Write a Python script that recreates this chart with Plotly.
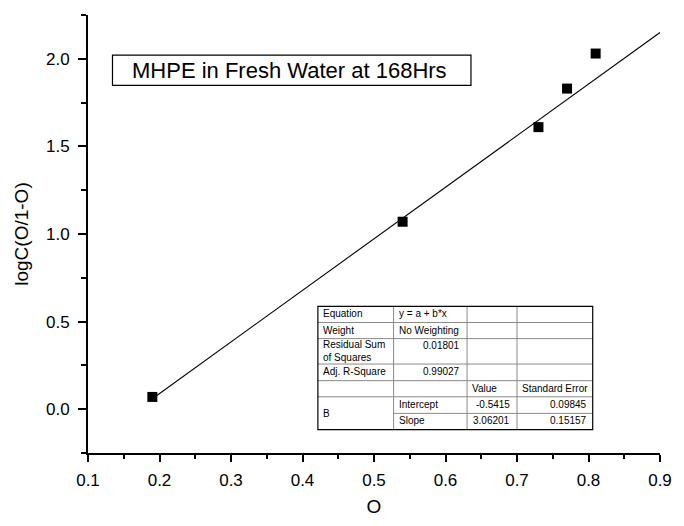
import plotly.graph_objects as go

# ---- data ----
x_vals = [0.19, 0.54, 0.73, 0.77, 0.81]
y_vals = [0.07, 1.07, 1.61, 1.83, 2.03]
fit_x = [0.19, 0.90]
fit_y = [0.06, 2.15]

title_text = "MHPE in Fresh Water at 168Hrs"
x_title = "O"
y_title = "logC(O/1-O)"

table_rows = [
    ["Equation", "y = a + b*x", "", ""],
    ["Weight", "No Weighting", "", ""],
    ["Residual Sum<br>of Squares", "0.01801", "", ""],
    ["Adj. R-Square", "0.99027", "", ""],
    ["", "", "Value", "Standard Error"],
    ["B", "Intercept", "-0.5415", "0.09845"],
    ["", "Slope", "3.06201", "0.15157"],
]

# ---- layout geometry (pixels) ----
W, H = 684, 526
L, R, T, B = 88, 12, 15, 63
FONT = "Arial, Liberation Sans, sans-serif"


def fx(px):
    return (px - L) / (W - L - R)


def fy(py):
    return (H - B - py) / (H - T - B)


fig = go.Figure()
fig.add_trace(go.Scatter(x=fit_x, y=fit_y, mode="lines",
                         line=dict(color="black", width=1.1),
                         showlegend=False, hoverinfo="skip"))
fig.add_trace(go.Scatter(x=x_vals, y=y_vals, mode="markers",
                         marker=dict(symbol="square", size=10, color="black"),
                         showlegend=False))

shapes = []
annotations = []

# title box
shapes.append(dict(type="rect", xref="paper", yref="paper",
                   x0=fx(113), x1=fx(479), y0=fy(87), y1=fy(56),
                   line=dict(color="black", width=1.2), fillcolor="white", layer="above"))
annotations.append(dict(xref="paper", yref="paper", x=fx(131), y=fy(71.5),
                        xanchor="left", yanchor="middle", showarrow=False,
                        text=title_text, font=dict(family=FONT, size=22, color="black")))

# table
cols = [322.7, 400, 475, 526, 603.3]
rows = [313, 329.5, 346, 372, 389, 405.5, 422.5, 439]
shapes.append(dict(type="rect", xref="paper", yref="paper",
                   x0=fx(cols[0]), x1=fx(cols[-1]), y0=fy(rows[-1]), y1=fy(rows[0]),
                   line=dict(width=0), fillcolor="white", layer="above"))
gray = "#8a8a8a"
for i, r in enumerate(rows[1:-1], start=1):
    x0 = cols[1] if i == 6 else cols[0]
    shapes.append(dict(type="line", xref="paper", yref="paper",
                       x0=fx(x0), x1=fx(cols[-1]), y0=fy(r), y1=fy(r),
                       line=dict(color=gray, width=1), layer="above"))
for c in cols[1:-1]:
    shapes.append(dict(type="line", xref="paper", yref="paper",
                       x0=fx(c), x1=fx(c), y0=fy(rows[0]), y1=fy(rows[-1]),
                       line=dict(color=gray, width=1), layer="above"))
shapes.append(dict(type="rect", xref="paper", yref="paper",
                   x0=fx(cols[0]), x1=fx(cols[-1]), y0=fy(rows[-1]), y1=fy(rows[0]),
                   line=dict(color="black", width=1.2), layer="above"))

numeric_right = {(2, 1): 469.5, (3, 1): 469.5, (5, 2): 520.5, (6, 2): 520.5,
                 (5, 3): 599.5, (6, 3): 599.5}
for ri, row in enumerate(table_rows):
    for ci, txt in enumerate(row):
        if not txt:
            continue
        if ri == 5 and ci == 0:
            yc = (rows[5] + rows[7]) / 2
        elif ri == 2 and ci == 1:
            yc = rows[2] + 7.5
        else:
            yc = (rows[ri] + rows[ri + 1]) / 2 - 0.5
        if (ri, ci) in numeric_right:
            xa, xpos = "right", numeric_right[(ri, ci)]
        else:
            xa, xpos = "left", cols[ci] + 3
        annotations.append(dict(xref="paper", yref="paper", x=fx(xpos), y=fy(yc),
                                xanchor=xa, yanchor="middle", showarrow=False,
                                align="left", text=txt,
                                font=dict(family=FONT, size=10, color="black")))

fig.update_layout(
    width=W, height=H,
    margin=dict(l=L, r=R, t=T, b=B, pad=0),
    paper_bgcolor="white", plot_bgcolor="white",
    font=dict(family=FONT, color="black"),
    shapes=shapes, annotations=annotations,
    xaxis=dict(range=[0.1, 0.9], tick0=0.1, dtick=0.1, tickformat=".1f",
               showgrid=False, zeroline=False, showline=True, linecolor="black",
               linewidth=2, ticks="outside", ticklen=7, tickwidth=2, tickcolor="black",
               ticklabelstandoff=4,
               minor=dict(dtick=0.05, tick0=0.1, ticks="outside", ticklen=4,
                          tickwidth=1.5, tickcolor="black", showgrid=False),
               tickfont=dict(family=FONT, size=17),
               title=dict(text=x_title, font=dict(family=FONT, size=19), standoff=10)),
    yaxis=dict(range=[-0.25, 2.25], tick0=0, dtick=0.5, tickformat=".1f",
               showgrid=False, zeroline=False, showline=True, linecolor="black",
               linewidth=2, ticks="outside", ticklen=8, tickwidth=2, tickcolor="black",
               ticklabelstandoff=5,
               minor=dict(dtick=0.25, tick0=0, ticks="outside", ticklen=5,
                          tickwidth=1.5, tickcolor="black", showgrid=False),
               tickfont=dict(family=FONT, size=17),
               title=dict(text=y_title, font=dict(family=FONT, size=19), standoff=12)),
)

fig.write_html("out.html")
